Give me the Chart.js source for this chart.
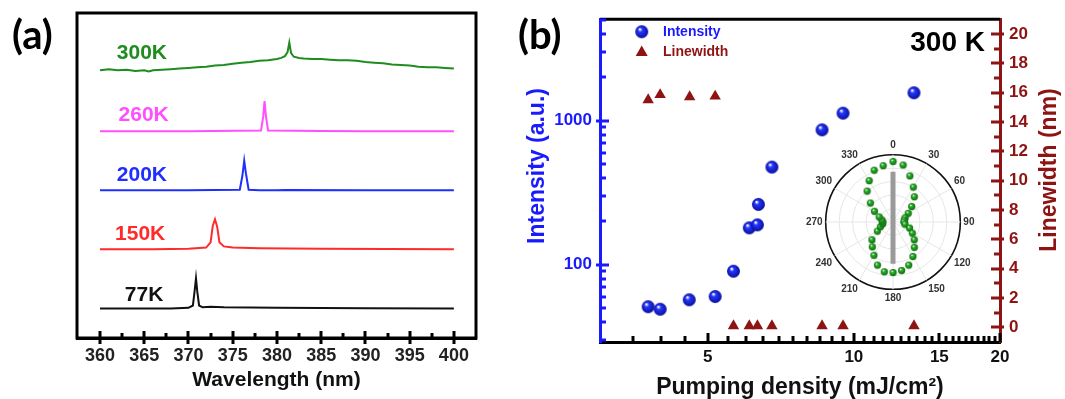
<!DOCTYPE html>
<html>
<head>
<meta charset="utf-8">
<script src="https://cdn.jsdelivr.net/npm/chart.js@4.4.1/dist/chart.umd.min.js"></script>
<style>
  html, body { margin: 0; padding: 0; background: #fff; }
  #wrap { position: relative; width: 1065px; height: 399px; overflow: hidden; }
  canvas { position: absolute; }
  .tag { position: absolute; font-family: Lato, 'Open Sans', sans-serif; font-weight: 700; font-size: 40px; line-height: 1; color: #000; }
</style>
</head>
<body>
<div id="wrap">
  <canvas id="specChart" width="500" height="399" style="left:0;top:0"></canvas>
  <canvas id="pumpChart" width="565" height="399" style="left:500px;top:0"></canvas>
  <canvas id="polarChart" width="200" height="200" style="left:791px;top:122px"></canvas>
  <div class="tag" style="left:12px;top:14px">(a)</div>
  <div class="tag" style="left:518px;top:14px">(b)</div>
</div>
<script>
// ===== Panel (a): PL spectra, stacked by temperature =====
const wl77 = [360, 364, 368, 370.0, 370.5, 370.7, 370.85, 371.0, 371.2, 371.6, 372.5, 374, 380, 390, 400];
const pl77 = [0.50, 0.50, 0.50, 0.51, 0.55, 0.80, 1.01, 0.78, 0.55, 0.52, 0.53, 0.52, 0.51, 0.505, 0.50];

const wl150 = [360, 366, 370, 372.0, 372.5, 372.75, 373.0, 373.25, 373.5, 374.0, 375, 378, 385, 400];
const pl150 = [1.50, 1.50, 1.51, 1.53, 1.62, 1.90, 2.01, 1.88, 1.62, 1.55, 1.53, 1.52, 1.51, 1.50];

const wl200 = [360, 370, 375.8, 376.1, 376.3, 376.5, 376.8, 378, 380, 381, 390, 400];
const pl200 = [2.50, 2.50, 2.51, 2.75, 3.00, 2.78, 2.51, 2.50, 2.50, 2.505, 2.50, 2.50];

const wl260 = [360, 370, 378.2, 378.45, 378.6, 378.75, 379.0, 385, 390, 400];
const pl260 = [3.50, 3.50, 3.51, 3.75, 4.01, 3.76, 3.51, 3.505, 3.50, 3.50];

const wl300 = [360, 361, 362, 363, 364, 365, 365.5, 366, 367, 368, 369, 370, 371, 372, 373, 374, 375, 376, 377, 378, 379, 380,
               380.5, 380.9, 381.2, 381.4, 381.6, 381.9, 382.5,
               383, 384, 385, 386, 387, 388, 389, 390, 391, 392, 393, 394, 395, 396, 397, 398, 399, 400];
const pl300 = [4.53, 4.55, 4.53, 4.54, 4.52, 4.53, 4.51, 4.53, 4.54, 4.55, 4.56, 4.57, 4.58, 4.59, 4.61, 4.62, 4.64, 4.66, 4.67, 4.69, 4.70, 4.72,
               4.74, 4.77, 4.84, 5.00, 4.82, 4.76, 4.74,
               4.73, 4.72, 4.72, 4.71, 4.70, 4.70, 4.69, 4.67, 4.66, 4.65, 4.63, 4.62, 4.61, 4.59, 4.58, 4.58, 4.57, 4.56];

const tempNames = ['77K', '150K', '200K', '260K', '300K'];
const wlTickLabels = [360, 365, 370, 375, 380, 385, 390, 395, 400];

// ===== Panel (b): intensity / linewidth vs pumping density =====
const pumpIntensity = [3.77, 3.99, 4.58, 5.18, 5.65, 6.09, 6.33, 6.36, 6.78, 8.6, 9.5, 13.3];
const intensity     = [51, 49, 57, 60, 90, 180, 189, 262, 476, 864, 1128, 1562];
const pumpLinewidth = [3.77, 3.99, 4.59, 5.18, 5.65, 6.09, 6.33, 6.78, 8.6, 9.5, 13.3];
const linewidth     = [15.5, 15.85, 15.7, 15.75, 0.1, 0.1, 0.1, 0.1, 0.1, 0.1, 0.1];
const pumpTickLabels = [5, 10, 15, 20];
const intensityTickLabels = [100, 1000];
const widthTickLabels = [0, 2, 4, 6, 8, 10, 12, 14, 16, 18, 20];

// ===== Inset: polar plot of emission intensity (normalised) =====
const polarAngles = [0, 10, 20, 30, 40, 50, 60, 70, 80, 90, 100, 110, 120, 130, 140, 150, 160, 170,
                     180, 190, 200, 210, 220, 230, 240, 250, 260, 270, 280, 290, 300, 310, 320, 330, 340, 350];
const polarRadius = [0.90, 0.86, 0.73, 0.60, 0.49, 0.36, 0.26, 0.19, 0.17, 0.16, 0.18, 0.26, 0.33, 0.41, 0.49, 0.59, 0.68, 0.73,
                     0.75, 0.75, 0.68, 0.57, 0.48, 0.41, 0.27, 0.20, 0.16, 0.15, 0.17, 0.22, 0.32, 0.44, 0.60, 0.71, 0.82, 0.85];
const rodTop = 0.745, rodBottom = 0.62;

const FONT = "'Liberation Sans', Arial, sans-serif";
const BLUE = '#1a1aff';
const DARKRED = '#8e1414';
const tempColors = ['#111111', '#ff2a2a', '#1f2fff', '#ff4fff', '#1e8c1e'];

// tick positions for the frames (minor + major)
const wlTickValues = [];
wlTickLabels.forEach((v, i) => { wlTickValues.push(v); if (i < wlTickLabels.length - 1) wlTickValues.push(v + 2.5); });
const pumpTickValues = [];
for (let v = 3.5; v <= 20; v += 0.5) pumpTickValues.push(v);
const intensityTickValues = [];
[10, 100, 1000].forEach(d => { for (let k = 1; k <= 9; k++) if (d * k >= 30 && d * k <= 5000) intensityTickValues.push(d * k); });
const widthTickValues = [];
for (let v = 0; v <= 20; v++) widthTickValues.push(v);

// shaded sphere marker
function sphere(r, base, dark) {
    const c = document.createElement('canvas');
    c.width = c.height = 2 * r + 2;
    const g = c.getContext('2d');
    const grd = g.createRadialGradient(r + 1 - r * 0.3, r + 1 - r * 0.4, r * 0.08, r + 1, r + 1, r);
    grd.addColorStop(0, '#ffffff');
    grd.addColorStop(0.28, base);
    grd.addColorStop(1, dark);
    g.fillStyle = grd;
    g.beginPath();
    g.arc(r + 1, r + 1, r, 0, Math.PI * 2);
    g.fill();
    return c;
}
const blueBall = sphere(6.5, '#2437ff', '#0a0f9a');
const greenBall = sphere(3.6, '#2fb52f', '#0d6a0d');

function toXY(xs, ys) { return xs.map((x, i) => ({ x: x, y: ys[i] })); }

// tick marks drawn on the inside of the frame (measured from the axis line centre)
function frameTicks(ctx, area, scale, values, side, color, majors, majorLen, minorLen, outLen) {
    ctx.save();
    ctx.strokeStyle = color;
    ctx.lineCap = 'butt';
    values.forEach(v => {
        const major = majors.includes(v);
        const len = major ? majorLen : minorLen;
        const out = major ? outLen : 0;
        const p = Math.round(scale.getPixelForValue(v));
        ctx.lineWidth = 3;
        ctx.beginPath();
        if (side === 'bottom') {
            ctx.moveTo(p, area.bottom + out);
            ctx.lineTo(p, area.bottom - len);
        } else if (side === 'left') {
            ctx.moveTo(area.left - out, p);
            ctx.lineTo(area.left + len, p);
        } else {
            ctx.moveTo(area.right + out, p);
            ctx.lineTo(area.right - len, p);
        }
        ctx.stroke();
    });
    ctx.restore();
}

// --- (a) chart ---
const spectra = [[wl77, pl77], [wl150, pl150], [wl200, pl200], [wl260, pl260], [wl300, pl300]];
const tempLabelPos = [[362.8, 0.73], [361.7, 1.76], [361.9, 2.76], [362.1, 3.77], [361.9, 4.82]];

const boxPlugin = {
    id: 'box',
    afterDraw(chart) {
        const a = chart.chartArea, ctx = chart.ctx;
        ctx.save();
        ctx.strokeStyle = '#000';
        ctx.lineWidth = 3;
        ctx.strokeRect(a.left, a.top, a.right - a.left, a.bottom - a.top);
        ctx.restore();
        frameTicks(ctx, a, chart.scales.x, wlTickValues, 'bottom', '#000', wlTickLabels, 7, 5, 6);
        // temperature labels
        const xs = chart.scales.x, ys = chart.scales.y;
        ctx.save();
        ctx.font = 'bold 21px ' + FONT;
        ctx.textBaseline = 'middle';
        ctx.textAlign = 'left';
        tempNames.forEach((n, i) => {
            ctx.fillStyle = tempColors[i];
            ctx.fillText(n, xs.getPixelForValue(tempLabelPos[i][0]), ys.getPixelForValue(tempLabelPos[i][1]));
        });
        ctx.restore();
    }
};

new Chart(document.getElementById('specChart'), {
    type: 'line',
    data: {
        datasets: spectra.map((s, i) => ({
            label: tempNames[i],
            data: toXY(s[0], s[1]),
            borderColor: tempColors[i],
            borderWidth: 2,
            pointRadius: 0,
            tension: 0,
            fill: false
        }))
    },
    options: {
        responsive: false,
        animation: false,
        devicePixelRatio: 1,
        layout: { padding: { left: 77, right: 24, top: 13, bottom: 0 } },
        plugins: { legend: { display: false }, tooltip: { enabled: false } },
        scales: {
            x: {
                type: 'linear', min: 357.4, max: 402.5,
                afterBuildTicks: s => { s.ticks = wlTickValues.map(v => ({ value: v })); },
                afterFit: s => { s.height = 61; },
                ticks: {
                    autoSkip: false, maxRotation: 0, padding: 7, color: '#222',
                    font: { family: FONT, size: 18, weight: 'bold' },
                    callback: v => (v % 5 === 0 ? v : '')
                },
                grid: { drawOnChartArea: false, drawTicks: false },
                border: { color: '#000', width: 3 },
                title: {
                    display: true, text: 'Wavelength (nm)', color: '#111',
                    font: { family: FONT, size: 21, weight: 'bold', lineHeight: 1 },
                    padding: { top: 0, bottom: 8 }
                }
            },
            y: { display: false, min: 0, max: 5.5 }
        }
    },
    plugins: [boxPlugin]
});

// --- (b) chart ---
const pumpDecor = {
    id: 'pumpDecor',
    afterDraw(chart) {
        const a = chart.chartArea, ctx = chart.ctx;
        const ox = -500; // canvas starts at page x = 500
        ctx.save();
        ctx.strokeStyle = '#000';
        ctx.lineWidth = 3;
        ctx.beginPath();
        ctx.moveTo(a.left, a.top);
        ctx.lineTo(a.right, a.top);
        ctx.stroke();
        ctx.restore();

        frameTicks(ctx, a, chart.scales.x, pumpTickValues, 'bottom', '#000', pumpTickLabels, 9, 6, 0);
        frameTicks(ctx, a, chart.scales.yL, intensityTickValues, 'left', BLUE, intensityTickLabels, 9, 6, 4);
        frameTicks(ctx, a, chart.scales.yR, widthTickValues, 'right', DARKRED, widthTickLabels, 9, 6, 4);

        ctx.save();
        // legend
        ctx.drawImage(blueBall, 641.7 + ox - blueBall.width / 2, 31.7 - blueBall.height / 2);
        ctx.fillStyle = DARKRED;
        ctx.beginPath();
        ctx.moveTo(641.7 + ox, 45.5);
        ctx.lineTo(641.7 + ox + 6, 56);
        ctx.lineTo(641.7 + ox - 6, 56);
        ctx.closePath();
        ctx.fill();
        ctx.font = 'bold 14px ' + FONT;
        ctx.textBaseline = 'middle';
        ctx.textAlign = 'left';
        ctx.fillStyle = BLUE;
        ctx.fillText('Intensity', 663 + ox, 32);
        ctx.fillStyle = DARKRED;
        ctx.fillText('Linewidth', 663 + ox, 52);

        // 300 K
        ctx.fillStyle = '#000';
        ctx.font = 'bold 28px ' + FONT;
        ctx.textAlign = 'right';
        ctx.fillText('300 K', 985 + ox, 43);

        // rotated axis titles
        ctx.textAlign = 'center';
        ctx.save();
        ctx.font = 'bold 23px ' + FONT;
        ctx.translate(538 + ox, 166);
        ctx.rotate(-Math.PI / 2);
        ctx.fillStyle = BLUE;
        ctx.fillText('Intensity (a.u.)', 0, 0);
        ctx.restore();
        ctx.save();
        ctx.font = 'bold 23px ' + FONT;
        ctx.translate(1050 + ox, 170);
        ctx.rotate(-Math.PI / 2);
        ctx.fillStyle = DARKRED;
        ctx.fillText('Linewidth (nm)', 0, 0);
        ctx.restore();
        ctx.restore();
    }
};

new Chart(document.getElementById('pumpChart'), {
    type: 'scatter',
    data: {
        datasets: [
            {
                label: 'Intensity',
                data: toXY(pumpIntensity, intensity),
                yAxisID: 'yL',
                pointStyle: blueBall,
                pointRadius: 7
            },
            {
                label: 'Linewidth',
                data: toXY(pumpLinewidth, linewidth),
                yAxisID: 'yR',
                pointStyle: 'triangle',
                pointRadius: 6.6,
                backgroundColor: DARKRED,
                borderColor: DARKRED,
                borderWidth: 0
            }
        ]
    },
    options: {
        responsive: false,
        animation: false,
        devicePixelRatio: 1,
        layout: { padding: { left: 0, right: 0, top: 13, bottom: 0 } },
        plugins: { legend: { display: false }, tooltip: { enabled: false } },
        scales: {
            x: {
                type: 'logarithmic', min: 3, max: 20,
                afterBuildTicks: s => { s.ticks = pumpTickValues.map(v => ({ value: v })); },
                afterFit: s => { s.height = 57; },
                ticks: {
                    autoSkip: false, maxRotation: 0, padding: 5, color: '#111',
                    font: { family: FONT, size: 17, weight: 'bold' },
                    callback: v => (pumpTickLabels.includes(v) ? String(v) : '')
                },
                grid: { drawOnChartArea: false, drawTicks: false },
                border: { color: '#000', width: 3 },
                title: {
                    display: true, text: 'Pumping density (mJ/cm²)', color: '#111',
                    font: { family: FONT, size: 23, weight: 'bold', lineHeight: 1 },
                    padding: { top: 0, bottom: 0 }
                }
            },
            yL: {
                type: 'logarithmic', position: 'left', min: 29, max: 5070,
                afterBuildTicks: s => { s.ticks = intensityTickValues.map(v => ({ value: v })); },
                afterFit: s => { s.width = 100; },
                ticks: {
                    autoSkip: false, padding: 8, color: BLUE,
                    font: { family: FONT, size: 17, weight: 'bold' },
                    callback: v => (intensityTickLabels.includes(v) ? String(v) : '')
                },
                grid: { drawOnChartArea: false, drawTicks: false },
                border: { color: BLUE, width: 3 }
            },
            yR: {
                type: 'linear', position: 'right', min: -1, max: 21,
                afterBuildTicks: s => { s.ticks = widthTickValues.map(v => ({ value: v })); },
                afterFit: s => { s.width = 65; },
                ticks: {
                    autoSkip: false, padding: 9, color: DARKRED,
                    font: { family: FONT, size: 17, weight: 'bold' },
                    callback: v => (v % 2 === 0 ? String(v) : '')
                },
                grid: { drawOnChartArea: false, drawTicks: false },
                border: { color: DARKRED, width: 3 }
            }
        }
    },
    plugins: [pumpDecor]
});

// --- inset polar chart ---
const rodData = polarAngles.map(a => (a === 0 ? rodTop : a === 180 ? rodBottom : null));

new Chart(document.getElementById('polarChart'), {
    type: 'radar',
    data: {
        labels: polarAngles.map(String),
        datasets: [
            {
                data: polarRadius,
                showLine: false,
                pointStyle: greenBall,
                pointRadius: 4,
                borderWidth: 0,
                borderColor: 'rgba(0,0,0,0)',
                backgroundColor: 'rgba(0,0,0,0)',
                fill: false
            },
            {
                data: rodData,
                spanGaps: true,
                borderColor: '#9a9a9a',
                borderWidth: 5,
                pointRadius: 0,
                fill: false,
                backgroundColor: 'rgba(0,0,0,0)'
            }
        ]
    },
    options: {
        responsive: false,
        animation: false,
        devicePixelRatio: 1,
        layout: { padding: 13 },
        plugins: { legend: { display: false }, tooltip: { enabled: false } },
        scales: {
            r: {
                min: 0, max: 1,
                ticks: { display: false, stepSize: 0.2 },
                grid: {
                    circular: true,
                    color: c => (c.tick && c.tick.value >= 1 ? '#111' : '#e6e6e6'),
                    lineWidth: c => (c.tick && c.tick.value >= 1 ? 1.6 : 1)
                },
                angleLines: {
                    display: true,
                    color: c => (c.index % 3 === 0 ? '#e6e6e6' : 'rgba(0,0,0,0)')
                },
                pointLabels: {
                    padding: 3, color: '#333',
                    font: { family: FONT, size: 10, weight: 'bold' },
                    callback: (l, i) => (i % 3 === 0 ? l : '')
                }
            }
        }
    }
});
</script>
</body>
</html>
